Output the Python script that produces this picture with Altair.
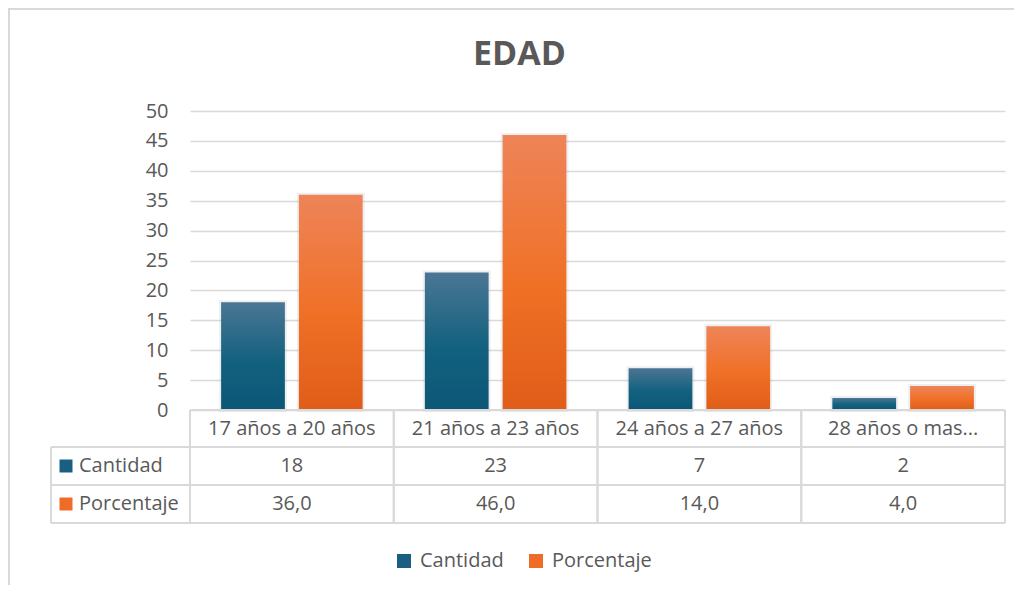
import altair as alt
import pandas as pd

titulo = ["EDAD"]
categorias = ["17 años a 20 años", "21 años a 23 años", "24 años a 27 años", "28 años o mas..."]
series = ["Cantidad", "Porcentaje"]
cantidad = [18, 23, 7, 2]
porcentaje = [36.0, 46.0, 14.0, 4.0]
y_ticks = [0, 5, 10, 15, 20, 25, 30, 35, 40, 45, 50]

rows = []
for c, q, p in zip(categorias, cantidad, porcentaje):
    rows.append({"cat": c, "serie": "Cantidad", "valor": q, "etiqueta": str(q)})
    rows.append({"cat": c, "serie": "Porcentaje", "valor": p,
                 "etiqueta": f"{p:.1f}".replace(".", ",")})
df = pd.DataFrame(rows)

W, H = 815, 299
FONT = "Open Sans"
GREY = "#595959"
LINE = "#d9d9d9"

x_scale = alt.Scale(domain=categorias, paddingInner=0, paddingOuter=0)
xoff_scale = alt.Scale(domain=series, paddingInner=0.18, paddingOuter=0.4)
y_scale = alt.Scale(domain=[0, 50], nice=False)
row_scale = alt.Scale(type="point", domain=series, range=[355, 393], padding=0)
color_scale = alt.Scale(domain=series, range=["#1a5f82", "#ee6c28"])


def grad(top, mid, bot):
    return alt.Gradient(
        gradient="linear", x1=0, x2=0, y1=0, y2=1,
        stops=[alt.GradientStop(color=top, offset=0),
               alt.GradientStop(color=mid, offset=0.55),
               alt.GradientStop(color=bot, offset=1)])


base = alt.Chart(df)
X = alt.X("cat:N", scale=x_scale, axis=None, sort=categorias)
XO = alt.XOffset("serie:N", scale=xoff_scale)

# soft shadow halo behind bars
shadow = base.mark_bar(fill="#000000", fillOpacity=0, stroke="#9a9a9a",
                       strokeWidth=4, strokeOpacity=0.16).encode(
    x=X, xOffset=XO,
    y=alt.Y("valor:Q", scale=y_scale,
            axis=alt.Axis(values=y_ticks, grid=True, gridColor=LINE, gridWidth=1.5,
                          domain=False, ticks=False, labelFontSize=20, labelFont=FONT,
                          labelColor=GREY, labelPadding=22, title=None)),
)

bars_c = base.transform_filter(alt.datum.serie == "Cantidad").mark_bar(
    fill=grad("#4b7694", "#12617f", "#0c5677")
).encode(
    x=X, xOffset=XO,
    y=alt.Y("valor:Q", scale=y_scale, axis=None),
)
bars_p = base.transform_filter(alt.datum.serie == "Porcentaje").mark_bar(
    fill=grad("#ee8459", "#f07026", "#e05d19")
).encode(
    x=X, xOffset=XO,
    y=alt.Y("valor:Q", scale=y_scale, axis=None),
)

one = base.transform_filter(alt.datum.serie == "Cantidad")
first = base.transform_filter(alt.datum.cat == categorias[0])

# table frame
vlines_l = one.mark_rule(color=LINE, strokeWidth=2).encode(
    x=alt.X("cat:N", scale=x_scale, axis=None, bandPosition=0),
    y=alt.value(299), y2=alt.value(412))
vlines_r = one.mark_rule(color=LINE, strokeWidth=2).encode(
    x=alt.X("cat:N", scale=x_scale, axis=None, bandPosition=1),
    y=alt.value(299), y2=alt.value(412))
single = alt.Chart(pd.DataFrame({"t": titulo}))
hl0 = single.mark_rule(color=LINE, strokeWidth=2).encode(
    x=alt.value(0), x2=alt.value(W), y=alt.value(299))
hl1 = single.mark_rule(color=LINE, strokeWidth=2).encode(
    x=alt.value(-139), x2=alt.value(W), y=alt.value(336))
hl2 = single.mark_rule(color=LINE, strokeWidth=2).encode(
    x=alt.value(-139), x2=alt.value(W), y=alt.value(374))
hl3 = single.mark_rule(color=LINE, strokeWidth=2).encode(
    x=alt.value(-139), x2=alt.value(W), y=alt.value(412))
vl0 = single.mark_rule(color=LINE, strokeWidth=2).encode(
    x=alt.value(-139), y=alt.value(336), y2=alt.value(412))

# outer chart border
bl = single.mark_rule(color=LINE, strokeWidth=2).encode(
    x=alt.value(-181), y=alt.value(-103), y2=alt.value(480))
bt = single.mark_rule(color=LINE, strokeWidth=2).encode(
    x=alt.value(-182), x2=alt.value(830), y=alt.value(-102))

header = one.mark_text(font=FONT, fontSize=20, color=GREY, baseline="middle").encode(
    x=X, y=alt.value(318), text="cat:N")
values = base.mark_text(font=FONT, fontSize=20, color=GREY, baseline="middle").encode(
    x=X, y=alt.Y("serie:N", scale=row_scale, axis=None), text="etiqueta:N")
row_labels = first.mark_text(font=FONT, fontSize=20, color=GREY, baseline="middle",
                             align="left").encode(
    x=alt.value(-111), y=alt.Y("serie:N", scale=row_scale, axis=None), text="serie:N")
row_sq = first.mark_square(size=169, opacity=1).encode(
    x=alt.value(-124), y=alt.Y("serie:N", scale=row_scale, axis=None),
    color=alt.Color("serie:N", scale=color_scale,
                    legend=alt.Legend(orient="none", legendX=204, legendY=440,
                                      direction="horizontal", title=None,
                                      symbolType="square", symbolSize=196,
                                      symbolStrokeWidth=0, symbolOpacity=1,
                                      labelFontSize=20, labelFont=FONT,
                                      labelColor=GREY, labelOffset=6,
                                      columnPadding=22, padding=0)))

title = single.mark_text(font=FONT, fontSize=34, fontWeight="bold", color=GREY,
                         baseline="alphabetic", align="center").encode(
    x=alt.value(329.5), y=alt.value(-46), text="t:N")

chart = alt.layer(
    bl, bt, shadow, bars_c, bars_p, hl0, hl1, hl2, hl3, vl0, vlines_l, vlines_r,
    header, values, row_labels, row_sq, title
).resolve_scale(y="independent").properties(
    width=W, height=H,
    autosize=alt.AutoSizeParams(type="none"),
    padding={"left": 182, "top": 103, "right": 9, "bottom": 175},
).configure_view(stroke=None)

chart.save("out.html", embed_options={"renderer": "svg", "actions": False})
